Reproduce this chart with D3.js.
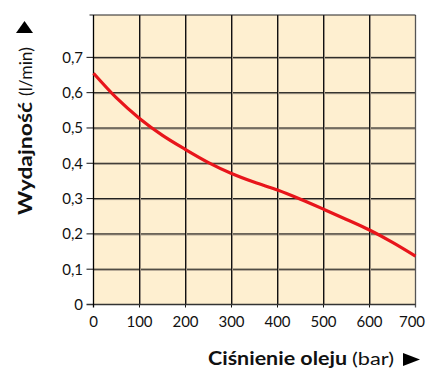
<!DOCTYPE html>
<html>
<head>
<meta charset="utf-8">
<script src="https://cdn.jsdelivr.net/npm/d3@7"></script>
<style>
  html, body { margin: 0; padding: 0; background: #fff; }
  svg { display: block; }
  text { font-family: Lato, "Open Sans", sans-serif; fill: #111; }
</style>
</head>
<body>
<svg id="chart" width="427" height="372"></svg>
<script>
// Pressure (bar) and delivery (l/min) readings along the curve
const pressure = [0, 50, 100, 150, 200, 250, 300, 350, 400, 450, 500, 550, 600, 650, 700];
const flow = [0.655, 0.585, 0.527, 0.479, 0.439, 0.402, 0.371, 0.346, 0.324, 0.298, 0.270, 0.241, 0.211, 0.176, 0.137];

const xTicks = [0, 100, 200, 300, 400, 500, 600, 700];
const yTicks = [0, 0.1, 0.2, 0.3, 0.4, 0.5, 0.6, 0.7];

const xTitleBold = "Ciśnienie oleju";
const xTitleUnit = "(bar)";
const yTitleBold = "Wydajność";
const yTitleUnit = "(l/min)";

const svg = d3.select("#chart");
const x = d3.scaleLinear().domain([0, 700]).range([93.5, 415.5]);
const y = d3.scaleLinear().domain([0, 0.82]).range([304.5, 15]);
const fmt = v => d3.format(".1f")(v).replace(".", ",").replace(/^0,0$/, "0");

// plot background
svg.append("rect")
  .attr("x", x(0)).attr("y", y(0.82))
  .attr("width", x(700) - x(0)).attr("height", y(0) - y(0.82))
  .attr("fill", "#FEEFD0");

// grid lines with a soft grey shadow
const g = svg.append("g");
const hLines = yTicks.filter(v => v > 0);
g.selectAll(".hs").data(hLines).join("line")
  .attr("x1", x(0)).attr("x2", x(700))
  .attr("y1", d => y(d) + 1).attr("y2", d => y(d) + 1)
  .attr("stroke", "#9a8f80").attr("stroke-width", 1);
g.selectAll(".h").data(hLines).join("line")
  .attr("x1", x(0) - 7).attr("x2", x(700))
  .attr("y1", d => y(d)).attr("y2", d => y(d))
  .attr("stroke", "#111").attr("stroke-width", 1);

const vLines = xTicks.filter(v => v > 0 && v < 700);
g.selectAll(".vs").data(vLines).join("line")
  .attr("x1", d => x(d) + 1).attr("x2", d => x(d) + 1)
  .attr("y1", y(0.82)).attr("y2", y(0))
  .attr("stroke", "#9a8f80").attr("stroke-width", 1);
g.selectAll(".v").data(vLines).join("line")
  .attr("x1", d => x(d)).attr("x2", d => x(d))
  .attr("y1", y(0.82)).attr("y2", y(0) + 3)
  .attr("stroke", "#111").attr("stroke-width", 1);

// frame
g.append("line").attr("x1", x(700)).attr("x2", x(700))
  .attr("y1", y(0.82)).attr("y2", y(0) + 3)
  .attr("stroke", "#555").attr("stroke-width", 1.3);
g.append("line").attr("x1", x(0) - 4).attr("x2", x(700))
  .attr("y1", y(0.82)).attr("y2", y(0.82))
  .attr("stroke", "#222").attr("stroke-width", 1.2);
g.append("line").attr("x1", x(0) - 7).attr("x2", x(700))
  .attr("y1", y(0)).attr("y2", y(0))
  .attr("stroke", "#333").attr("stroke-width", 1.3);
g.append("line").attr("x1", x(0)).attr("x2", x(0))
  .attr("y1", y(0.82)).attr("y2", y(0) + 3)
  .attr("stroke", "#000").attr("stroke-width", 1.3);

// curve
const line = d3.line().x(d => x(d[0])).y(d => y(d[1])).curve(d3.curveMonotoneX);
svg.append("path")
  .datum(pressure.map((p, i) => [p, flow[i]]))
  .attr("d", line)
  .attr("fill", "none")
  .attr("stroke", "#E8151B")
  .attr("stroke-width", 3.2)
  .attr("stroke-linecap", "butt");

// tick labels
svg.selectAll(".yl").data(yTicks).join("text")
  .attr("x", 83).attr("y", d => y(d) + 5.5)
  .attr("text-anchor", "end")
  .attr("font-size", 15)
  .text(fmt);
svg.selectAll(".xl").data(xTicks).join("text")
  .attr("x", d => Math.min(x(d), 412))
  .attr("y", 327)
  .attr("text-anchor", "middle")
  .attr("font-size", 15)
  .text(d => d);

// x axis title
const titleFont = "'Open Sans', Lato, sans-serif";
svg.append("text").attr("x", 208).attr("y", 365)
  .attr("font-family", titleFont).attr("font-size", 18).attr("font-weight", "bold")
  .attr("textLength", 139).attr("lengthAdjust", "spacingAndGlyphs")
  .text(xTitleBold);
svg.append("text").attr("x", 352).attr("y", 365)
  .attr("font-family", titleFont).attr("font-size", 18)
  .attr("textLength", 42).attr("lengthAdjust", "spacingAndGlyphs")
  .text(xTitleUnit);
svg.append("path")
  .attr("d", "M403,353 L420,359.5 L403,366 Z")
  .attr("fill", "#000");

// y axis title (rotated)
const yt = svg.append("g").attr("transform", "translate(32,0) rotate(-90)");
yt.append("text").attr("x", -215).attr("y", 0)
  .attr("font-family", titleFont).attr("font-size", 18).attr("font-weight", "bold")
  .attr("textLength", 113).attr("lengthAdjust", "spacingAndGlyphs")
  .text(yTitleBold);
yt.append("text").attr("x", -96).attr("y", 0)
  .attr("font-family", titleFont).attr("font-size", 18)
  .attr("textLength", 49).attr("lengthAdjust", "spacingAndGlyphs")
  .text(yTitleUnit);
svg.append("path")
  .attr("d", "M16,33 L24.5,21 L33,33 Z")
  .attr("fill", "#000");
</script>
</body>
</html>
